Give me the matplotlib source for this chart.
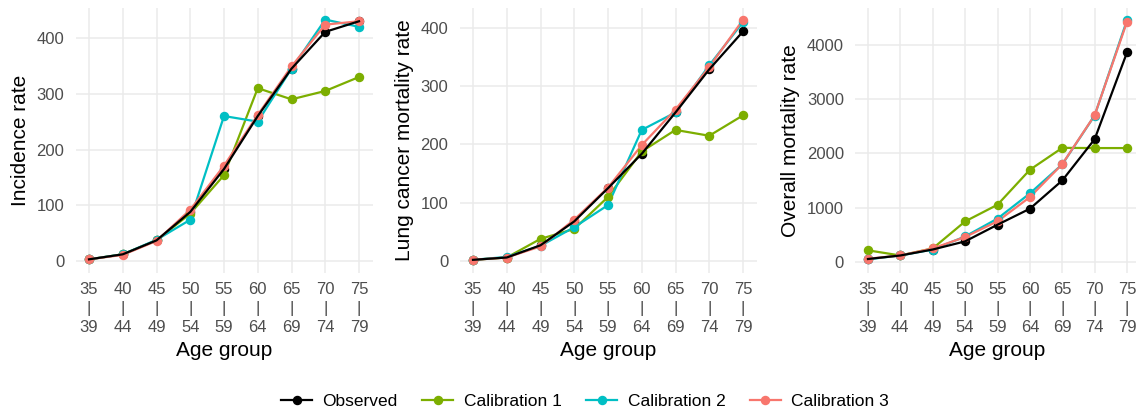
import matplotlib.pyplot as plt
from matplotlib.lines import Line2D

plt.rcParams['font.family'] = ['Liberation Sans', 'DejaVu Sans']

ages = [35, 40, 45, 50, 55, 60, 65, 70, 75]
age_labels = ['35\n|\n39', '40\n|\n44', '45\n|\n49', '50\n|\n54', '55\n|\n59',
              '60\n|\n64', '65\n|\n69', '70\n|\n74', '75\n|\n79']

series_names = ['Observed', 'Calibration 1', 'Calibration 2', 'Calibration 3']
colors = ['black', '#7CAE00', '#00BFC4', '#F8766D']

# incidence
inc_obs = [3, 12, 37, 88, 165, 260, 345, 411, 430]
inc_c1 = [3, 12, 37, 85, 154, 310, 290, 305, 330]
inc_c2 = [3, 12, 38, 74, 260, 250, 345, 433, 420]
inc_c3 = [3, 11, 36, 92, 171, 262, 349, 424, 430]

# lung cancer mortality
lcm_obs = [2, 6, 27, 68, 125, 184, 255, 329, 394]
lcm_c1 = [2, 6, 38, 55, 110, 188, 225, 215, 250]
lcm_c2 = [2, 7, 26, 58, 96, 225, 255, 336, 410]
lcm_c3 = [2, 6, 25, 71, 126, 199, 260, 333, 414]

# overall mortality
om_obs = [55, 120, 230, 380, 687, 982, 1503, 2264, 3865]
om_c1 = [215, 120, 250, 748, 1055, 1700, 2104, 2100, 2100]
om_c2 = [50, 120, 230, 470, 800, 1264, 1800, 2700, 4460]
om_c3 = [60, 120, 250, 460, 750, 1196, 1804, 2705, 4430]

panels = [
    ('Incidence rate', [inc_obs, inc_c1, inc_c2, inc_c3], [0, 100, 200, 300, 400], (-21.5, 453.8)),
    ('Lung cancer mortality rate', [lcm_obs, lcm_c1, lcm_c2, lcm_c3], [0, 100, 200, 300, 400], (-20.6, 434.3)),
    ('Overall mortality rate', [om_obs, om_c1, om_c2, om_c3], [0, 1000, 2000, 3000, 4000], (-203, 4682)),
]

W, H = 1136, 413
fig = plt.figure(figsize=(W / 100, H / 100), dpi=100)
lefts = [75.5, 459.5, 855]
widths = [297, 297, 285]
top_px, bot_px = 8, 273
ms = 5.8

for (ylab, data, yticks, ylim), l, w in zip(panels, lefts, widths):
    ax = fig.add_axes([l / W, 1 - bot_px / H, w / W, (bot_px - top_px) / H])
    # observed points under everything, observed line on top
    ax.plot(ages, data[0], 'o', color=colors[0], ms=ms, zorder=2)
    for i in [1, 2, 3]:
        ax.plot(ages, data[i], color=colors[i], lw=1.6, zorder=3)
        ax.plot(ages, data[i], 'o', color=colors[i], ms=ms, zorder=4)
    ax.plot(ages, data[0], color=colors[0], lw=1.6, zorder=5)
    ax.set_xlim(33, 77)
    ax.set_ylim(*ylim)
    ax.set_xticks(ages)
    ax.set_xticklabels(age_labels, linespacing=1.35)
    ax.set_yticks(yticks)
    ax.tick_params(length=0, labelsize=12, labelcolor='#4D4D4D')
    ax.tick_params(axis='x', pad=6.5)
    ax.tick_params(axis='y', pad=8)
    ax.grid(True, color='#EBEBEB', lw=1.1, zorder=0)
    ax.set_axisbelow(True)
    for s in ax.spines.values():
        s.set_visible(False)
    ax.set_xlabel('Age group', fontsize=15, labelpad=4)
    ax.set_ylabel(ylab, fontsize=15, labelpad=5)

handles = [Line2D([], [], color=c, lw=1.6, marker='o', ms=ms) for c in colors]
fig.legend(handles, series_names, loc='center', bbox_to_anchor=(0.515, 0.028),
           ncol=4, frameon=False, fontsize=12.5, handlelength=1.8,
           handletextpad=0.6, columnspacing=1.4)

fig.savefig('out.png', dpi=100, facecolor='white')
